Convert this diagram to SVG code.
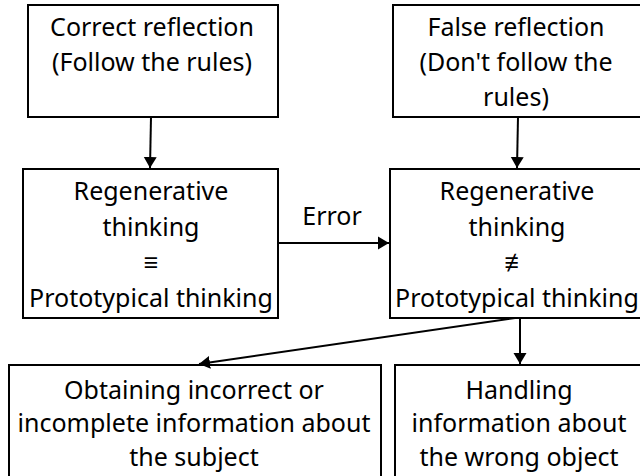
<svg xmlns="http://www.w3.org/2000/svg" width="640" height="476" viewBox="0 0 640 476">
<style>
.b{fill:#fff;stroke:#000;stroke-width:2}
text{font-family:"Noto Sans","Open Sans",sans-serif;font-size:25px;fill:#000;text-anchor:middle}
.c{stroke:#000;stroke-width:2;fill:none}
</style>
<defs><marker id="a" markerWidth="12" markerHeight="14" refX="11" refY="7" orient="auto" markerUnits="userSpaceOnUse" viewBox="0 0 12 14"><path d="M0,0.5 L11,7 L0,13.5 z" fill="#000"/></marker></defs>
<rect width="640" height="476" fill="#fff"/>
<g id="n1"><rect class="b" x="28" y="5" width="250" height="112"/><text x="152" y="36">Correct reflection</text><text x="152" y="71">(Follow the rules)</text></g>
<g id="n2"><rect class="b" x="393" y="5" width="250" height="112"/><text x="516" y="36">False reflection</text><text x="516" y="71">(Don't follow the</text><text x="516" y="106">rules)</text></g>
<g id="n3"><rect class="b" x="23" y="169" width="255" height="149"/><text x="151" y="200">Regenerative</text><text x="151" y="236">thinking</text><text x="151" y="271">≡</text><text x="151" y="307">Prototypical thinking</text></g>
<g id="n4"><rect class="b" x="390" y="169" width="253" height="149"/><text x="517" y="200">Regenerative</text><text x="517" y="236">thinking</text><text x="517" y="271">≢</text><text x="517" y="307">Prototypical thinking</text></g>
<g id="n5"><rect class="b" x="9" y="365" width="372" height="116"/><text x="194" y="399">Obtaining incorrect or</text><text x="194" y="432">incomplete information about</text><text x="194" y="466">the subject</text></g>
<g id="n6"><rect class="b" x="395" y="365" width="248" height="116"/><text x="519" y="399">Handling</text><text x="519" y="432">information about</text><text x="519" y="466">the wrong object</text></g>
<g id="connectors">
<line class="c" x1="151" y1="117" x2="150" y2="168" marker-end="url(#a)"/>
<line class="c" x1="518" y1="117" x2="517" y2="168" marker-end="url(#a)"/>
<line class="c" x1="278" y1="243" x2="389" y2="243" marker-end="url(#a)"/>
<text x="332" y="225">Error</text>
<line class="c" x1="520" y1="318" x2="520" y2="364" marker-end="url(#a)"/>
<line class="c" x1="515" y1="318" x2="199" y2="364" marker-end="url(#a)"/>
</g>
</svg>
